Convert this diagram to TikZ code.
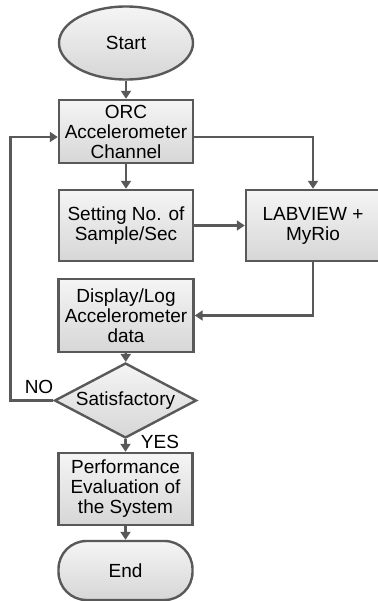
\documentclass[tikz,border=0pt]{standalone}
\usepackage{fontspec}
\setmainfont{Liberation Sans}
\usetikzlibrary{arrows.meta,shapes.geometric,calc}
\definecolor{edge}{HTML}{595959}
\begin{document}
\begin{tikzpicture}[x=1pt,y=-1pt,
  font=\fontsize{19}{20}\selectfont,
  base/.style={draw=edge, line width=2.4pt, top color=white!96!black, bottom color=white!84!black, align=center, inner sep=0pt},
  proc/.style={base, rectangle, minimum width=134pt},
  term/.style={base, ellipse, minimum width=134pt, minimum height=73pt},
  stad/.style={base, rectangle, rounded corners=28pt, minimum width=134pt, minimum height=59pt},
  dec/.style={base, diamond, minimum width=142pt, minimum height=75pt, aspect=1.9},
  arr/.style={draw=edge, line width=2.4pt, -{Triangle[length=8pt,width=10pt]}},
  lbl/.style={font=\fontsize{19}{20}\selectfont}]
\useasboundingbox (0,0) rectangle (377,601);
\node[term] (start) at (126,43) {Start};
\node[proc, minimum height=63pt] (orc) at (126,131.5) {ORC\\Accelerometer\\Channel};
\node[proc, minimum height=71pt] (set) at (126,225.5) {Setting No. of\\Sample/Sec};
\node[proc, minimum height=71pt] (lab) at (313,225.5) {LABVIEW +\\MyRio};
\node[proc, minimum height=73pt, minimum width=135pt] (disp) at (126,315.5) {Display/Log\\Accelerometer\\data};
\node[dec, inner sep=0pt] (dia) at (125.5,400.5) {Satisfactory};
\node[proc, minimum height=72pt] (perf) at (125.5,489) {Performance\\Evaluation of\\the System};
\node[stad] (end) at (125.5,570.5) {End};
\node[lbl] (no) at (39,387) {NO};
\node[lbl] (yes) at (160,442) {YES};
\coordinate (orcR) at ([yshift=-5.5pt]orc.east);
\coordinate (orcL) at ([yshift=-5.5pt]orc.west);
\draw[arr] (start) -- (orc);
\draw[arr] (orc) -- (set);
\draw[arr] (orcR) -| (lab.north);
\draw[arr] (set) -- (lab);
\draw[arr] (lab.south) |- (disp.east);
\draw[arr] (disp) -- (dia);
\draw[arr] (dia.west) -- ++(-43,0) |- (orcL);
\draw[arr] (dia) -- (perf);
\draw[arr] (perf) -- (end);
\end{tikzpicture}
\end{document}
